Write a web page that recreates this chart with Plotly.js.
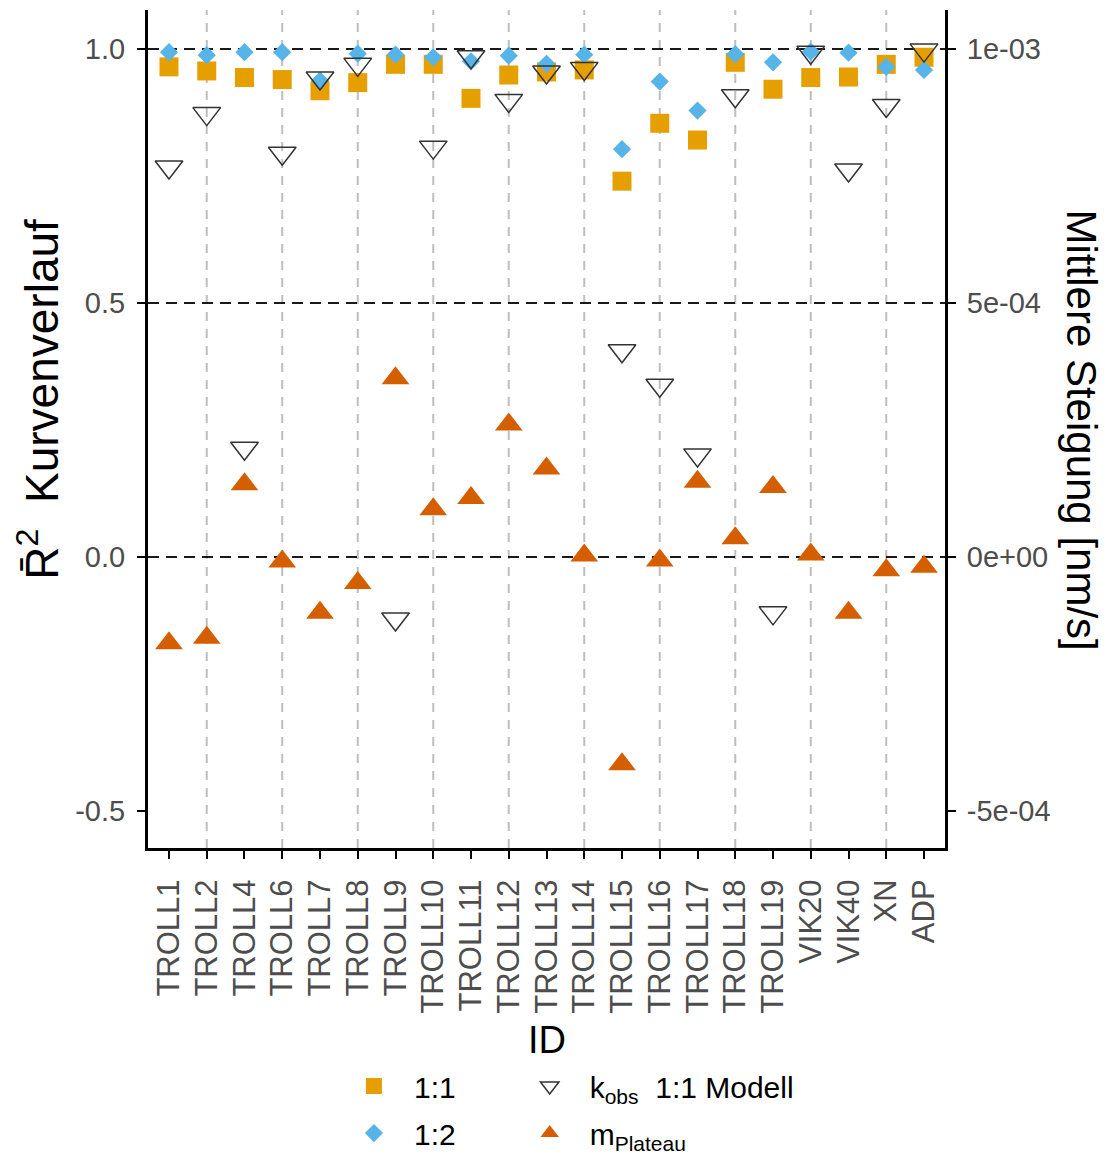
<!DOCTYPE html>
<html>
<head>
<meta charset="utf-8">
<script src="https://cdn.plot.ly/plotly-3.0.1.min.js"></script>
<style>
  html, body { margin: 0; padding: 0; background: #ffffff; }
  #chart { width: 1108px; height: 1158px; }
</style>
</head>
<body>
<div id="chart"></div>
<script>
// ---------------- data ----------------
const ids = ['TROLL1','TROLL2','TROLL4','TROLL6','TROLL7','TROLL8','TROLL9','TROLL10','TROLL11','TROLL12',
             'TROLL13','TROLL14','TROLL15','TROLL16','TROLL17','TROLL18','TROLL19','VIK20','VIK40','XN','ADP'];

// adjusted R^2 of the curve fits (left axis)
const r2_11 = [0.965,0.957,0.944,0.940,0.918,0.934,0.970,0.970,0.903,0.949,
               0.955,0.959,0.740,0.854,0.821,0.974,0.921,0.944,0.945,0.970,0.984];
const r2_12 = [0.994,0.988,0.994,0.994,0.938,0.991,0.989,0.984,0.976,0.987,
               0.971,0.989,0.803,0.936,0.879,0.990,0.974,0.995,0.993,0.965,0.959];

// mean slopes [nm/s] (right axis)
const kobs = [0.000768,0.000873,0.000214,0.000795,0.000943,0.000970,-0.000122,0.000807,0.000985,0.000899,
              0.000955,0.000962,0.000406,0.000338,0.000201,0.000908,-0.000110,0.000994,0.000762,0.000889,0.000998];
const mPlateau = [-0.000170,-0.000159,0.000143,-0.000009,-0.000110,-0.000051,0.000352,0.000094,0.000116,0.000261,
                  0.000174,0.000003,-0.000408,-0.000007,0.000148,0.000037,0.000138,0.000005,-0.000110,-0.000026,-0.000019];

const leftTickVals = [-0.5, 0.0, 0.5, 1.0];
const leftTickText = ['-0.5', '0.0', '0.5', '1.0'];
const rightTickVals = [-0.0005, 0, 0.0005, 0.001];
const rightTickText = ['-5e-04', '0e+00', '5e-04', '1e-03'];

const hlineVals = [1.0, 0.5, 0.0];
const vlineCats = ['TROLL2','TROLL6','TROLL8','TROLL10','TROLL12','TROLL14','TROLL16','TROLL18','VIK20','XN'];

const seriesNames = ['1:1', '1:2', 'k<sub>obs</sub>  1:1 Modell', 'm<sub>Plateau</sub>'];

// ---------------- styling ----------------
const FONT = 'Liberation Sans, Arial, Helvetica, sans-serif';
const yRange = [-0.573, 1.077];
const y2Range = [yRange[0] / 1000, yRange[1] / 1000];

const traces = [
  { type: 'scatter', mode: 'markers', x: ids, y: r2_11, name: seriesNames[0],
    yaxis: 'y', legend: 'legend', legendgroup: 'a',
    marker: { symbol: 'square', size: 19, color: '#E69F00', line: { width: 0 } } },
  { type: 'scatter', mode: 'markers', x: ids, y: r2_12, name: seriesNames[1],
    yaxis: 'y', legend: 'legend', legendgroup: 'b',
    marker: { symbol: 'diamond', size: 14, color: '#56B4E9', line: { width: 0 } } },
  { type: 'scatter', mode: 'markers', x: ids, y: kobs, name: seriesNames[2],
    yaxis: 'y2', legend: 'legend2', legendgroup: 'c',
    marker: { symbol: 'triangle-down-open', size: 24, color: '#333333', line: { width: 1.5, color: '#333333' } } },
  { type: 'scatter', mode: 'markers', x: ids, y: mPlateau, name: seriesNames[3],
    yaxis: 'y2', legend: 'legend2', legendgroup: 'd',
    marker: { symbol: 'triangle-up', size: 24, color: '#D55E00', line: { width: 0 } } }
];

const shapes = [];
vlineCats.forEach(c => shapes.push({
  type: 'line', xref: 'x', yref: 'paper', x0: c, x1: c, y0: 0, y1: 1, layer: 'below',
  line: { color: '#BEBEBE', width: 2, dash: '9px,8px' }
}));
hlineVals.forEach(v => shapes.push({
  type: 'line', xref: 'paper', yref: 'y', x0: 0, x1: 1, y0: v, y1: v, layer: 'below',
  line: { color: '#1a1a1a', width: 2, dash: '11px,7px' }
}));

const layout = {
  width: 1108, height: 1158,
  margin: { l: 148, r: 163, t: 10, b: 310, autoexpand: false },
  paper_bgcolor: '#ffffff', plot_bgcolor: '#ffffff',
  font: { family: FONT, color: '#000000' },
  showlegend: true,
  xaxis: {
    type: 'category', range: [-0.556, 20.556], automargin: false,
    showgrid: false, zeroline: false,
    showline: true, linecolor: '#000000', linewidth: 3,
    ticks: 'outside', ticklen: 8, tickwidth: 2, tickcolor: '#000000',
    tickangle: -90, tickfont: { family: FONT, size: 31, color: '#4D4D4D' },
    ticklabelstandoff: 8
  },
  yaxis: {
    range: yRange, showgrid: false, zeroline: false, automargin: false,
    showline: true, linecolor: '#000000', linewidth: 3,
    ticks: 'outside', ticklen: 8, tickwidth: 2, tickcolor: '#000000',
    tickmode: 'array', tickvals: leftTickVals, ticktext: leftTickText,
    tickfont: { family: FONT, size: 29, color: '#4D4D4D' },
    ticklabelstandoff: 6
  },
  yaxis2: {
    range: y2Range, overlaying: 'y', side: 'right', automargin: false,
    showgrid: false, zeroline: false,
    showline: true, linecolor: '#000000', linewidth: 3,
    ticks: 'outside', ticklen: 8, tickwidth: 2, tickcolor: '#000000',
    tickmode: 'array', tickvals: rightTickVals, ticktext: rightTickText,
    tickfont: { family: FONT, size: 29, color: '#4D4D4D' },
    ticklabelstandoff: 5
  },
  shapes: shapes,
  annotations: [
    { text: 'R\u0304<sup>2</sup>  Kurvenverlauf', xref: 'paper', yref: 'paper',
      x: -0.138, y: 0.535, xanchor: 'center', yanchor: 'middle', textangle: -90,
      showarrow: false, font: { family: FONT, size: 46, color: '#000000' } },
    { text: 'Mittlere Steigung [nm/s]', xref: 'paper', yref: 'paper',
      x: 1.171, y: 0.499, xanchor: 'center', yanchor: 'middle', textangle: 90,
      showarrow: false, font: { family: FONT, size: 42, color: '#000000' } },
    { text: 'ID', xref: 'paper', yref: 'paper',
      x: 0.5, y: -0.229, xanchor: 'center', yanchor: 'middle',
      showarrow: false, font: { family: FONT, size: 38, color: '#000000' } }
  ],
  legend: {
    xref: 'container', yref: 'container',
    x: 0.3014, y: 0.0846, xanchor: 'left', yanchor: 'top',
    orientation: 'v', traceorder: 'grouped', tracegroupgap: 5,
    itemwidth: 70, bgcolor: 'rgba(0,0,0,0)',
    font: { family: FONT, size: 30, color: '#000000' }
  },
  legend2: {
    xref: 'container', yref: 'container',
    x: 0.46, y: 0.0846, xanchor: 'left', yanchor: 'top',
    orientation: 'v', traceorder: 'grouped', tracegroupgap: 5,
    itemwidth: 70, bgcolor: 'rgba(0,0,0,0)',
    font: { family: FONT, size: 30, color: '#000000' }
  }
};

Plotly.newPlot('chart', traces, layout, { staticPlot: true, displayModeBar: false });
</script>
</body>
</html>
